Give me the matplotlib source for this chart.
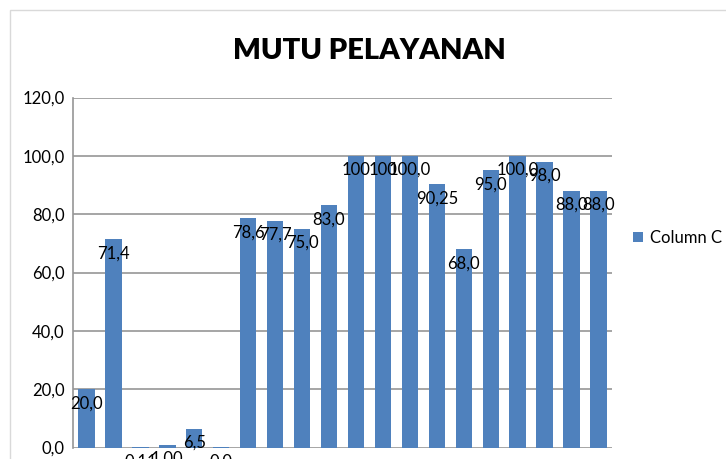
import matplotlib
matplotlib.use("Agg")
import matplotlib.pyplot as plt
from matplotlib.patches import Patch, Rectangle
from matplotlib.ticker import FuncFormatter, MultipleLocator

plt.rcParams['font.family'] = ['Lato', 'DejaVu Sans']

categories = list(range(1, 21))
values = [20.0, 71.4, 0.11, 1.00, 6.5, 0.04, 78.6, 77.7, 75.0, 83.0,
          100.0, 100.0, 100.0, 90.25, 68.0, 95.0, 100.0, 98.0, 88.0, 88.0]
labels = ["20,0", "71,4", "0,11", "1,00", "6,5", "0,0", "78,6", "77,7", "75,0", "83,0",
          "100", "100", "100,0", "90,25", "68,0", "95,0", "100,0", "98,0", "88,0", "88,0"]
series_name = "Column C"
title = "MUTU PELAYANAN"

W, H = 726, 459
fig = plt.figure(figsize=(W / 100, H / 100), dpi=100)
fig.patch.set_facecolor('white')

# chart border
fig.add_artist(Rectangle((10 / W, -0.1), 2.0, (H - 10) / H + 0.1, transform=fig.transFigure,
                         fill=False, edgecolor='#d9d9d9', linewidth=1.0))

left, right, top, bottom = 73, 612, 97.5, 447.5
ax = fig.add_axes([left / W, 1 - bottom / H, (right - left) / W, (bottom - top) / H])

color = '#4F81BD'
x = list(range(len(values)))
ax.bar(x, values, width=0.61, color=color, zorder=3)
ax.set_xlim(-0.5, len(values) - 0.5)
ax.set_ylim(0, 120)
ax.yaxis.set_major_locator(MultipleLocator(20))
ax.yaxis.set_major_formatter(FuncFormatter(lambda v, p: f"{v:.1f}".replace('.', ',')))
ax.grid(axis='y', color='#969696', linewidth=1.2, zorder=0)
ax.set_xticks([])
for s in ['top', 'right', 'bottom']:
    ax.spines[s].set_visible(False)
ax.spines['left'].set_color('#969696')
ax.spines['left'].set_linewidth(1.2)
ax.tick_params(axis='y', length=0, pad=6, labelsize=12, labelcolor='black')

for xi, v, lab in zip(x, values, labels):
    ax.annotate(lab, (xi, v), xytext=(0, -14), textcoords='offset pixels',
                ha='center', va='center', fontsize=12, color='black',
                annotation_clip=False, zorder=5)

fig.text(369 / W, 1 - 51 / H, title, ha='center', va='center', fontsize=21,
         fontweight='heavy', color='black')

handle = Patch(facecolor=color, edgecolor='none')
fig.legend([handle], [series_name], loc='center left', bbox_to_anchor=(626 / W, 1 - 238 / H),
           frameon=False, fontsize=12, handlelength=0.6, handleheight=0.6,
           handletextpad=0.45, borderaxespad=0)

fig.savefig('out.png', dpi=100, facecolor='white')
